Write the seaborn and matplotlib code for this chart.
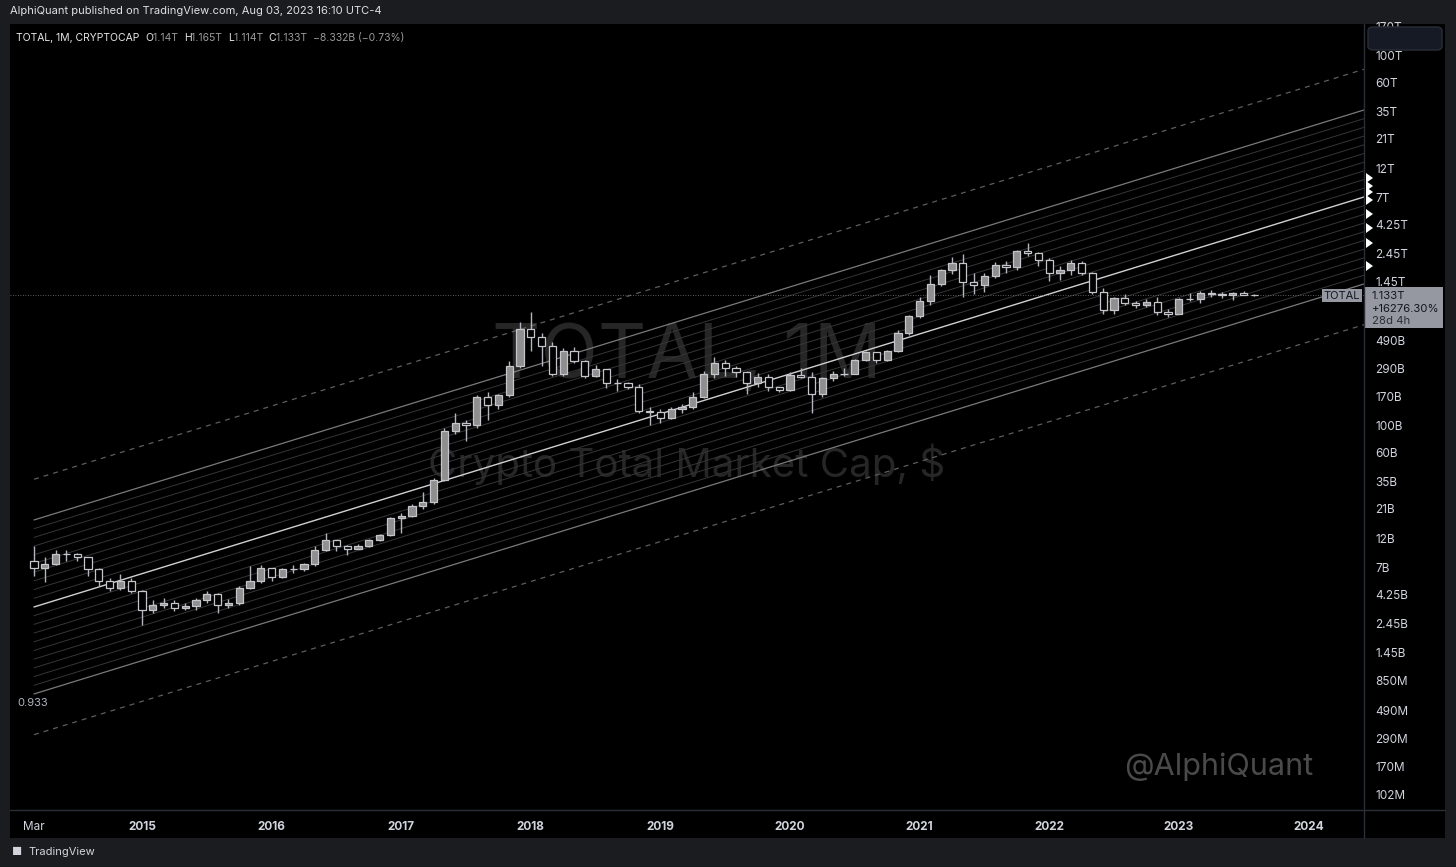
import numpy as np
import pandas as pd
import matplotlib
matplotlib.use("Agg")
import matplotlib.pyplot as plt
import seaborn as sns
from matplotlib.patches import Rectangle, FancyBboxPatch, Polygon

sns.set_theme(style="dark")
plt.rcParams['font.family'] = ['Inter', 'DejaVu Sans']

# ---- data (billions USD), monthly from Mar 2014 to Aug 2023 ----
close_b = [7.0,7.5,9.0,9.0,8.5,6.8,5.5,4.8,5.5,4.5,
    3.2,3.5,3.6,3.3,3.4,3.8,4.3,3.5,3.6,4.8,5.5,6.9,
    5.9,6.8,6.8,7.5,9.8,11.8,10.4,10.0,10.5,11.8,12.9,17.7,
    18.5,22,24,36,90,105,100,170,145,175,300,600,
    520,440,260,400,330,250,285,220,220,205,130,128,
    115,135,140,170,260,320,290,270,220,245,205,192,
    255,245,180,240,260,260,340,390,340,400,560,770,
    1010,1400,1820,2050,1440,1380,1630,2000,1900,2580,2480,2200,
    1700,1800,2050,1700,1200,860,1080,970,940,1000,830,800,
    1050,1060,1170,1160,1130,1170,1140,1133]
open_b = [8.0,7.0,7.5,9.0,9.0,8.5,6.8,5.5,4.8,5.5,
    4.5,3.2,3.5,3.6,3.3,3.4,3.8,4.3,3.5,3.6,4.8,5.5,
    6.9,5.9,6.8,6.8,7.5,9.8,11.8,10.4,10.0,10.5,11.8,12.9,
    17.7,18.5,22,24,36,90,105,100,170,145,175,300,
    600,520,440,260,400,330,250,285,220,220,205,130,
    128,115,135,140,170,260,320,290,270,220,245,205,
    192,255,245,180,240,260,260,340,390,340,400,560,
    770,1010,1400,1820,2050,1440,1380,1630,2000,1900,2580,2480,
    2200,1700,1800,2050,1700,1200,860,1080,970,940,1000,830,
    800,1050,1060,1170,1160,1130,1170,1140]
high_b = [10.5,8.5,9.8,9.8,9.2,8.6,7.0,5.8,6.2,5.8,
    4.6,3.8,4.0,3.8,3.6,4.0,4.5,4.4,3.9,5.0,7.2,7.3,
    7.0,7.0,7.4,7.7,10.5,13.5,11.5,10.6,10.8,12.0,13.2,17.9,
    19.5,23,29,37,95,125,110,175,185,180,330,680,
    830,560,470,420,430,340,310,285,235,225,215,140,
    135,140,148,185,275,360,340,300,275,265,260,205,
    270,290,270,245,275,290,345,400,390,405,590,780,
    1100,1650,1850,2300,2450,1700,1700,2100,2150,2650,3000,2550,
    2250,1950,2200,2150,1750,1300,1100,1150,1020,1050,1100,870,
    1080,1180,1220,1250,1200,1200,1230,1165]
low_b = [6.0,5.4,7.3,8.0,7.9,6.0,5.0,4.5,4.6,4.4,
    2.4,3.0,3.3,3.1,3.2,3.2,3.6,3.0,3.3,3.5,4.7,5.3,
    5.5,5.8,6.4,6.6,7.2,9.5,9.5,8.8,9.9,10.3,11.5,12.7,
    13.5,18,21,23,35,85,75,95,110,135,170,290,
    400,300,250,250,320,240,245,200,190,195,125,100,
    105,112,125,135,165,240,250,245,180,205,190,185,
    188,240,125,170,230,250,260,330,320,330,395,540,
    740,950,1350,1680,1100,1150,1200,1550,1700,1800,2350,1950,
    1470,1500,1650,1650,1150,790,800,950,890,900,780,760,
    790,1020,980,1100,1080,1040,1130,1114]
year_labels = ["Mar","2015","2016","2017","2018","2019","2020","2021","2022","2023","2024"]
year_idx = [0,10,22,34,46,58,70,82,94,106,118]
ytick_labels = ["170T","100T","60T","35T","21T","12T","7T","4.25T","2.45T","1.45T","490B","290B","170B",
                "100B","60B","35B","21B","12B","7B","4.25B","2.45B","1.45B","850M","490M","290M","170M","102M"]
ytick_vals = [170e12,100e12,60e12,35e12,21e12,12e12,7e12,4.25e12,2.45e12,1.45e12,490e9,290e9,170e9,
              100e9,60e9,35e9,21e9,12e9,7e9,4.25e9,2.45e9,1.45e9,850e6,490e6,290e6,170e6,102e6]
# regression channel (log10 values)
chan_start_log = 9.527
chan_slope = 0.02698
chan_inner = 0.705
chan_outer = 1.035

df = pd.DataFrame({"i": np.arange(len(close_b)),
                   "o": np.array(open_b)*1e9, "h": np.array(high_b)*1e9,
                   "l": np.array(low_b)*1e9, "c": np.array(close_b)*1e9})

W, H = 1456, 867
fig = plt.figure(figsize=(W/100, H/100), dpi=100, facecolor="#1b1c1f")
L, R, T, B = 10, 1364, 24, 810
ax = fig.add_axes([L/W, 1-B/H, (R-L)/W, (B-T)/H])
ax.set_facecolor("black")
ax.set_yscale("log")
ax.set_xlim(-2.22, 123.15)
top_log = 14 + 31/123.4
bot_log = 14 - (810-55)/123.4
ax.set_ylim(10**bot_log, 10**top_log)
ax.grid(False)
for s in ax.spines.values():
    s.set_visible(False)

# watermark
ax.text(0.5, 0.575, "TOTAL, 1M", transform=ax.transAxes, ha="center", va="center",
        fontsize=54, color="#262626", zorder=1)
ax.text(0.5, 0.44, "Crypto Total Market Cap, $", transform=ax.transAxes, ha="center", va="center",
        fontsize=29, color="#262626", zorder=1)
ax.text(0.893, 0.055, "@AlphiQuant", transform=ax.transAxes, ha="center", va="center",
        fontsize=22, color="#4a4a4a", zorder=1)

# channel
xs = np.array([0, 130])
base = chan_start_log + chan_slope*xs
for k in range(21):
    off = chan_inner - k*(2*chan_inner/20)
    if k == 10:
        col, lw = "#d0d0d0", 1.0
    elif k in (0, 20):
        col, lw = "#7a7a7a", 0.9
    else:
        col, lw = "#363636", 0.7
    sns.lineplot(x=xs, y=10**(base+off), ax=ax, color=col, lw=lw, zorder=2)
for off in (chan_outer, -chan_outer):
    sns.lineplot(x=xs, y=10**(base+off), ax=ax, color="#5e5e5e", lw=0.9, ls=(0, (4, 4)), zorder=2)

# price line
ax.axhline(df.c.iloc[-1], color="#7a7a7a", lw=0.6, ls=(0, (1, 2)), zorder=2)

# candles
ax.vlines(df.i, df.l, df.h, color="#b2b5be", lw=1, zorder=3)
bw = 0.66
for _, r in df.iterrows():
    lo, hi = min(r.o, r.c), max(r.o, r.c)
    if hi/lo < 1.004:
        hi, lo = hi*1.003, lo/1.003
    fc = "#8f8f8f" if r.c >= r.o else "black"
    ax.add_patch(Rectangle((r.i-bw/2, lo), bw, hi-lo, facecolor=fc, edgecolor="#c4c6cc", lw=0.9, zorder=4))

ax.text(-1.5, 10**(14-(703-55)/123.4), "0.933", color="#b2b5be", fontsize=8, va="center", ha="left")

# axes ticks
ax.set_xticks(year_idx)
ax.set_xticklabels(year_labels)
ax.tick_params(axis="x", colors="#d1d4dc", labelsize=8.5, length=0, pad=8)
for lab in ax.get_xticklabels():
    if lab.get_text() != "Mar":
        lab.set_fontweight("bold")
ax.yaxis.tick_right()
ax.set_yticks(ytick_vals)
ax.set_yticklabels(ytick_labels)
ax.yaxis.set_minor_locator(matplotlib.ticker.NullLocator())
ax.tick_params(axis="y", colors="#d1d4dc", labelsize=8.5, length=0, pad=8)

# right axis panel background + frame
fig.patches.append(Rectangle((R/W, 1-B/H), (1445-R)/W, (B-T)/H, transform=fig.transFigure,
                             facecolor="black", edgecolor="none", zorder=-1))
fig.patches.append(Rectangle((L/W, 1-838/H), (1445-L)/W, 28/H, transform=fig.transFigure,
                             facecolor="black", edgecolor="none", zorder=-1))
fig.lines.append(plt.Line2D([R/W, R/W], [1-838/H, 1-T/H], transform=fig.transFigure, color="#2a2e39", lw=1))
fig.lines.append(plt.Line2D([L/W, 1445/W], [1-B/H, 1-B/H], transform=fig.transFigure, color="#2a2e39", lw=1))
fig.patches.append(FancyBboxPatch((1368/W, 1-50/H), 74/W, 23/H, boxstyle="round,pad=0,rounding_size=0.004",
                                  transform=fig.transFigure, facecolor="#161a25", edgecolor="#2a2e39", lw=1))

# markers on axis edge
for yp in [178, 186, 192, 200, 214, 228, 243, 266]:
    fig.patches.append(Polygon([[1366/W, 1-(yp-5)/H], [1366/W, 1-(yp+5)/H], [1373/W, 1-yp/H]],
                               closed=True, transform=fig.transFigure, facecolor="white", edgecolor="none"))

# price label
fig.patches.append(Rectangle((1364/W, 1-328/H), 79/W, 41/H, transform=fig.transFigure,
                             facecolor="#9598a1", edgecolor="none"))
fig.patches.append(Rectangle((1322/W, 1-302/H), 40/W, 13/H, transform=fig.transFigure,
                             facecolor="#9598a1", edgecolor="none"))
fig.text(1342/W, 1-296/H, "TOTAL", color="#131722", fontsize=8, ha="center", va="center")
fig.text(1372/W, 1-296/H, "1.133T", color="#131722", fontsize=8.2, va="center")
fig.text(1372/W, 1-309/H, "+16276.30%", color="#131722", fontsize=8.2, va="center")
fig.text(1372/W, 1-321/H, "28d 4h", color="#2a2e39", fontsize=8.2, va="center")

# header
fig.text(10/W, 1-11/H, "AlphiQuant published on TradingView.com, Aug 03, 2023 16:10 UTC-4",
         color="#e0e0e0", fontsize=8, va="center")
parts = [("TOTAL, 1M, CRYPTOCAP  ", "#e6e6e6"), ("O", "#e6e6e6"), ("1.14T  ", "#9a9a9a"),
         ("H", "#e6e6e6"), ("1.165T  ", "#9a9a9a"), ("L", "#e6e6e6"), ("1.114T  ", "#9a9a9a"),
         ("C", "#e6e6e6"), ("1.133T  ", "#9a9a9a"), ("\u22128.332B (\u22120.73%)", "#9a9a9a")]
renderer = fig.canvas.get_renderer()
xpx = 16
for txt, col in parts:
    t = fig.text(xpx/W, 1-38/H, txt, color=col, fontsize=7.5, va="center")
    xpx += t.get_window_extent(renderer).width

# footer
fig.text(12/W, 1-852/H, "\u25a0", color="#d1d4dc", fontsize=8, va="center")
fig.text(28/W, 1-852/H, "TradingView", color="#d1d4dc", fontsize=8, va="center")

fig.savefig("out.png", dpi=100, facecolor=fig.get_facecolor())
